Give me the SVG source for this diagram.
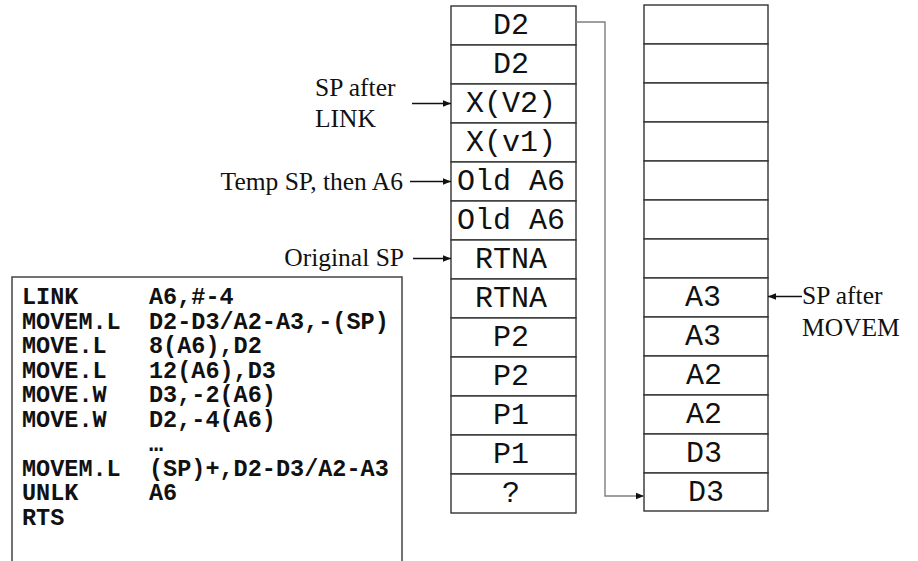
<svg xmlns="http://www.w3.org/2000/svg" width="918" height="561" viewBox="0 0 918 561">
<style>
.cell{fill:#fff;stroke:#333;stroke-width:1.4}
.st{font-family:"Liberation Mono","Courier New",monospace;font-size:30px;fill:#111;text-anchor:middle}
.code{font-family:"Liberation Mono","Courier New",monospace;font-size:23.5px;font-weight:bold;fill:#111}
.lbl{font-family:"Liberation Serif","Times New Roman",serif;font-size:25.5px;fill:#111}
.arr{stroke:#111;stroke-width:1.3;fill:none}
.conn{stroke:#7f7f7f;stroke-width:1.4;fill:none}
</style>
<defs>
<marker id="ah" markerUnits="userSpaceOnUse" markerWidth="9" markerHeight="8" refX="8" refY="4" orient="auto">
<path d="M0,0.8 L8,4 L0,7.2 Z" fill="#111"/>
</marker>
</defs>
<rect width="918" height="561" fill="#fff"/>

<g id="left-stack">
<rect class="cell" x="451" y="6" width="125" height="39"/><text class="st" x="511" y="34">D2</text>
<rect class="cell" x="451" y="45" width="125" height="39"/><text class="st" x="511" y="73">D2</text>
<rect class="cell" x="451" y="84" width="125" height="39"/><text class="st" x="511" y="112">X(V2)</text>
<rect class="cell" x="451" y="123" width="125" height="39"/><text class="st" x="511" y="151">X(v1)</text>
<rect class="cell" x="451" y="162" width="125" height="39"/><text class="st" x="511" y="190">Old A6</text>
<rect class="cell" x="451" y="201" width="125" height="39"/><text class="st" x="511" y="229">Old A6</text>
<rect class="cell" x="451" y="240" width="125" height="39"/><text class="st" x="511" y="268">RTNA</text>
<rect class="cell" x="451" y="279" width="125" height="39"/><text class="st" x="511" y="307">RTNA</text>
<rect class="cell" x="451" y="318" width="125" height="39"/><text class="st" x="511" y="346">P2</text>
<rect class="cell" x="451" y="357" width="125" height="39"/><text class="st" x="511" y="385">P2</text>
<rect class="cell" x="451" y="396" width="125" height="39"/><text class="st" x="511" y="424">P1</text>
<rect class="cell" x="451" y="435" width="125" height="39"/><text class="st" x="511" y="463">P1</text>
<rect class="cell" x="451" y="474" width="125" height="39"/><text class="st" x="511" y="502">?</text>
</g>

<g id="right-stack">
<rect class="cell" x="644" y="5" width="124" height="39"/>
<rect class="cell" x="644" y="44" width="124" height="39"/>
<rect class="cell" x="644" y="83" width="124" height="39"/>
<rect class="cell" x="644" y="122" width="124" height="39"/>
<rect class="cell" x="644" y="161" width="124" height="39"/>
<rect class="cell" x="644" y="200" width="124" height="39"/>
<rect class="cell" x="644" y="239" width="124" height="39"/>
<rect class="cell" x="644" y="278" width="124" height="39"/><text class="st" x="703" y="306">A3</text>
<rect class="cell" x="644" y="317" width="124" height="39"/><text class="st" x="703" y="345">A3</text>
<rect class="cell" x="644" y="356" width="124" height="39"/><text class="st" x="704" y="384">A2</text>
<rect class="cell" x="644" y="395" width="124" height="39"/><text class="st" x="704" y="423">A2</text>
<rect class="cell" x="644" y="434" width="124" height="39"/><text class="st" x="704" y="462">D3</text>
<rect class="cell" x="644" y="473" width="124" height="38"/><text class="st" x="706" y="501">D3</text>
</g>

<g id="code-box">
<path d="M12,561 V277 H402 V561" fill="none" stroke="#444" stroke-width="1.5"/>
<text class="code" x="22" y="304">LINK</text><text class="code" x="149" y="304">A6,#-4</text>
<text class="code" x="22" y="328.5">MOVEM.L</text><text class="code" x="149" y="328.5">D2-D3/A2-A3,-(SP)</text>
<text class="code" x="22" y="353">MOVE.L</text><text class="code" x="149" y="353">8(A6),D2</text>
<text class="code" x="22" y="377.5">MOVE.L</text><text class="code" x="149" y="377.5">12(A6),D3</text>
<text class="code" x="22" y="402">MOVE.W</text><text class="code" x="149" y="402">D3,-2(A6)</text>
<text class="code" x="22" y="426.5">MOVE.W</text><text class="code" x="149" y="426.5">D2,-4(A6)</text>
<text class="code" x="149" y="451">…</text>
<text class="code" x="22" y="475.5">MOVEM.L</text><text class="code" x="149" y="475.5">(SP)+,D2-D3/A2-A3</text>
<text class="code" x="22" y="500">UNLK</text><text class="code" x="149" y="500">A6</text>
<text class="code" x="22" y="524.5">RTS</text>
</g>

<g id="label-sp-after-link">
<text class="lbl" x="315" y="96">SP after</text>
<text class="lbl" x="315" y="127">LINK</text>
</g>
<g id="label-temp-sp">
<text class="lbl" x="403" y="190" text-anchor="end">Temp SP, then A6</text>
</g>
<g id="label-original-sp">
<text class="lbl" x="404" y="266" text-anchor="end">Original SP</text>
</g>
<g id="label-sp-after-movem">
<text class="lbl" x="802" y="304">SP after</text>
<text class="lbl" x="802" y="336">MOVEM</text>
</g>

<g id="connectors">
<path class="arr" d="M412,103.5 H451" marker-end="url(#ah)"/>
<path class="arr" d="M410,181.5 H451" marker-end="url(#ah)"/>
<path class="arr" d="M413,258.5 H451" marker-end="url(#ah)"/>
<path class="arr" d="M802,296.5 H768" marker-end="url(#ah)"/>
<path class="conn" d="M576,22 H605 V496 H644" marker-end="url(#ah)"/>
</g>
</svg>
